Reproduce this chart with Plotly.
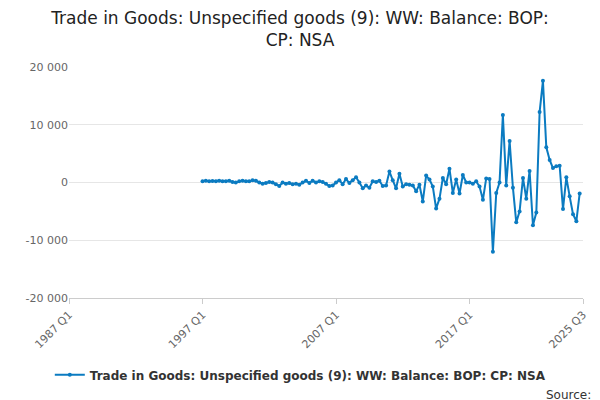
import pandas as pd
import plotly.graph_objects as go

values = [
    200, 300, 200, 250, 200, 300, 200, 200, 300, 100,
    0, 200, 300, 200, 200, 400, 300, 0, -200, -100,
    100, 0, -300, -600, 0, -200, -100, -300, -200, -400,
    0, 300, -100, 300, 0, 200, 100, -200, -600, -500,
    0, 400, -300, 600, -100, 400, 900, 0, -1000, -500,
    -900, 200, 100, 300, -600, -500, 1900, 400, -1000,
    1500, -700, -300, -400, -500, -1500, -400, -3300, 1200, 500,
    -700, -4500, -2800, 800, -300, 2400, -1800, 500, -1900, 1300,
    0, 0, -200, 200, -700, -3000, 700, 600, -12000, -1800,
    0, 11700, -500, 7200, -900, -6900, -5000, 800, -2800, 2000,
    -7400, -5200, 12200, 17600, 6100, 3900, 2500, 2800, 2900, -4600,
    900, -2400, -5500, -6700, -1900,
]
dates = pd.period_range("1997Q1", periods=len(values), freq="Q").to_timestamp()
name = "Trade in Goods: Unspecified goods (9): WW: Balance: BOP: CP: NSA"

tick_labels = ["1987 Q1", "1997 Q1", "2007 Q1", "2017 Q1", "2025 Q3"]
tick_vals = [pd.Period(t.replace(" ", ""), freq="Q").to_timestamp() for t in tick_labels]

fig = go.Figure()
fig.add_trace(go.Scatter(
    x=dates, y=values, mode="lines+markers", name=name,
    line=dict(color="#0b7bc1", width=2), marker=dict(size=4, color="#0b7bc1"),
))
fig.update_layout(
    width=600, height=400, plot_bgcolor="white", paper_bgcolor="white",
    font=dict(family="DejaVu Sans", color="#333"),
    title=dict(text="Trade in Goods: Unspecified goods (9): WW: Balance: BOP:<br>CP: NSA",
               x=0.5, xanchor="center", y=0.94, yanchor="top", font=dict(size=17, color="#222")),
    margin=dict(l=69, r=17, t=67, b=102, autoexpand=False),
    showlegend=True,
    legend=dict(orientation="h", x=0.45, xanchor="center", y=-0.27, yanchor="top",
                font=dict(size=12, color="#333", weight="bold")),
    xaxis=dict(range=[tick_vals[0], tick_vals[-1]], tickvals=tick_vals, ticktext=tick_labels,
               tickangle=-45, showgrid=False, showline=True, linecolor="#ccc", automargin=False,
               ticks="outside", tickcolor="#ccc", tickfont=dict(size=11, color="#666")),
    yaxis=dict(range=[-20000, 20000], tickvals=[-20000, -10000, 0, 10000, 20000],
               ticktext=["-20 000", "-10 000", "0", "10 000", "20 000"], automargin=False,
               gridcolor="#e6e6e6", zeroline=False, tickfont=dict(size=11, color="#666")),
    annotations=[dict(text="Source:", xref="paper", yref="paper", x=1.02, y=-0.38,
                      xanchor="right", yanchor="top", showarrow=False,
                      font=dict(size=12, color="#333"))],
)
fig.write_html("out.html", config={"displayModeBar": False},
               post_script="document.body.style.margin='0';")
